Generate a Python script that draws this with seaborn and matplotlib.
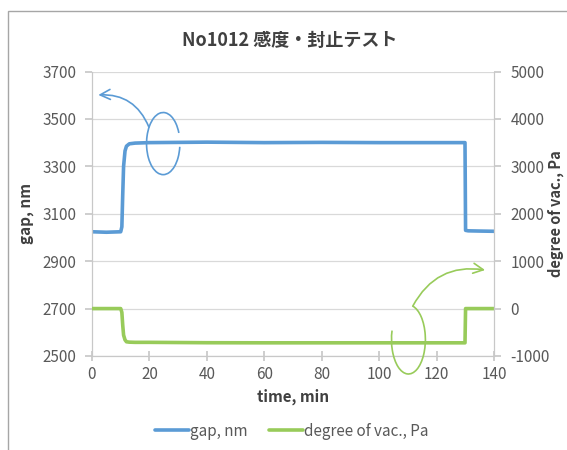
import numpy as np
import pandas as pd
import matplotlib
matplotlib.use('Agg')
from matplotlib import pyplot as plt
from matplotlib.patches import Arc, Rectangle
from matplotlib.lines import Line2D
import seaborn as sns

# data
time_min = [0, 5, 10, 10.4, 10.7, 11.0, 11.5, 12.0, 13.0, 15, 20, 40, 60, 80, 100, 120, 129.9, 130.1, 131, 135, 140]
gap_nm = [3024, 3022, 3024, 3045, 3180, 3300, 3365, 3385, 3395, 3398, 3400, 3402, 3400, 3401, 3400, 3400, 3400, 3030, 3028, 3027, 3026]
vac_pa = [0, 0, 0, -80, -350, -560, -660, -700, -708, -712, -712, -720, -722, -722, -722, -722, -722, 0, 0, 0, 0]

x_ticks = [0, 20, 40, 60, 80, 100, 120, 140]
gap_ticks = [2500, 2700, 2900, 3100, 3300, 3500, 3700]
vac_ticks = [-1000, 0, 1000, 2000, 3000, 4000, 5000]

title = 'No1012 感度・封止テスト'
gap_label = 'gap, nm'
vac_label = 'degree of vac., Pa'
time_label = 'time, min'

df = pd.DataFrame({'time': time_min, 'gap': gap_nm, 'vac': vac_pa})

sns.set_theme(style='white')
plt.rcParams['font.family'] = ['Noto Sans CJK JP', 'DejaVu Sans']
plt.rcParams['axes.unicode_minus'] = False

blue = '#5b9bd5'
green = '#98cb5a'
grey_txt = '#595959'
grey_ln = '#c8c8c8'


def arc_angle(phi, w, h):
    # Arc stretches angles when width != height; undo that so phi is the point's angle on the ellipse
    p = np.radians(phi)
    return np.degrees(np.arctan2(h / w * np.sin(p), np.cos(p))) % 360


fig = plt.figure(figsize=(5.67, 4.5), dpi=100)
ax = fig.add_axes([92/567, 1-356/450, (494-92)/567, (356-71.5)/450])
ax2 = ax.twinx()

sns.lineplot(data=df, x='time', y='gap', ax=ax, color=blue, lw=2.6)
sns.lineplot(data=df, x='time', y='vac', ax=ax2, color=green, lw=2.6)

ax.set_xlim(0, 140)
ax.set_ylim(2500, 3700)
ax2.set_ylim(-1000, 5000)
ax.set_xticks(x_ticks)
ax.set_yticks(gap_ticks)
ax2.set_yticks(vac_ticks)
ax.grid(axis='y', color='#d9d9d9', lw=0.9)
ax.set_axisbelow(True)

for a in (ax, ax2):
    a.spines['top'].set_visible(False)
    for s in ('left', 'right', 'bottom'):
        a.spines[s].set_color(grey_ln)
        a.spines[s].set_linewidth(0.9)
ax.spines['right'].set_visible(False)
ax2.spines['left'].set_visible(False)
ax2.spines['bottom'].set_visible(False)

ax.tick_params(axis='y', direction='out', length=5, color=grey_ln, labelsize=11, labelcolor=grey_txt, pad=6, left=True)
ax.tick_params(axis='x', direction='inout', length=7, color=grey_ln, labelsize=11, labelcolor=grey_txt, pad=4, bottom=True)
ax2.tick_params(axis='y', direction='out', length=5, color=grey_ln, labelsize=11, labelcolor=grey_txt, pad=7, right=True)

ax.set_xlabel(time_label, fontsize=11, fontweight='bold', color='#404040', labelpad=4)
ax.set_ylabel(gap_label, fontsize=11, fontweight='bold', color='#404040', labelpad=6)
ax2.set_ylabel('')
fig.text(556/567, 1-214/450, vac_label, rotation=90, ha='center', va='center',
         fontsize=10.5, fontweight='bold', color='#404040')

fig.text(290/567, 1-40/450, title, ha='center', va='center', fontsize=13, fontweight='bold', color='#404040')

handles = [Line2D([], [], color=blue, lw=2.6), Line2D([], [], color=green, lw=2.6)]
fig.legend(handles, [gap_label, vac_label], loc='center', bbox_to_anchor=(292/567, 19/450), ncol=2,
           frameon=False, fontsize=11, handlelength=2.2, handletextpad=0.1, columnspacing=1.4,
           labelcolor=grey_txt)

# hand-drawn marks on the print
bw, bh = 11.6, 262
ax.add_patch(Arc((24.8, 3396), bw, bh, theta1=arc_angle(20, bw, bh), theta2=arc_angle(354, bw, bh),
                 color=blue, lw=1.2, clip_on=False))
ax.annotate('', xy=(2.2, 3601), xytext=(19.8, 3466), annotation_clip=False,
            arrowprops=dict(arrowstyle='->,head_length=0.6,head_width=0.3', color=blue, lw=1.2,
                            connectionstyle='arc3,rad=0.35', shrinkA=0, shrinkB=0))
gw, gh = 11.8, 1455
ax2.add_patch(Arc((110.2, -652), gw, gh, theta1=arc_angle(165, gw, gh), theta2=arc_angle(75, gw, gh),
                  color=green, lw=1.2, clip_on=False))
ax2.annotate('', xy=(136.9, 813), xytext=(111.7, 51), annotation_clip=False,
             arrowprops=dict(arrowstyle='->,head_length=0.6,head_width=0.3', color=green, lw=1.2,
                             connectionstyle='arc3,rad=-0.35', shrinkA=0, shrinkB=0))

fig.patches.append(Rectangle((8/567, -0.1), 1.2, 1.1 - 11/450, transform=fig.transFigure,
                             fill=False, edgecolor='#a6a6a6', lw=1.0))

fig.savefig('out.png', dpi=100)
